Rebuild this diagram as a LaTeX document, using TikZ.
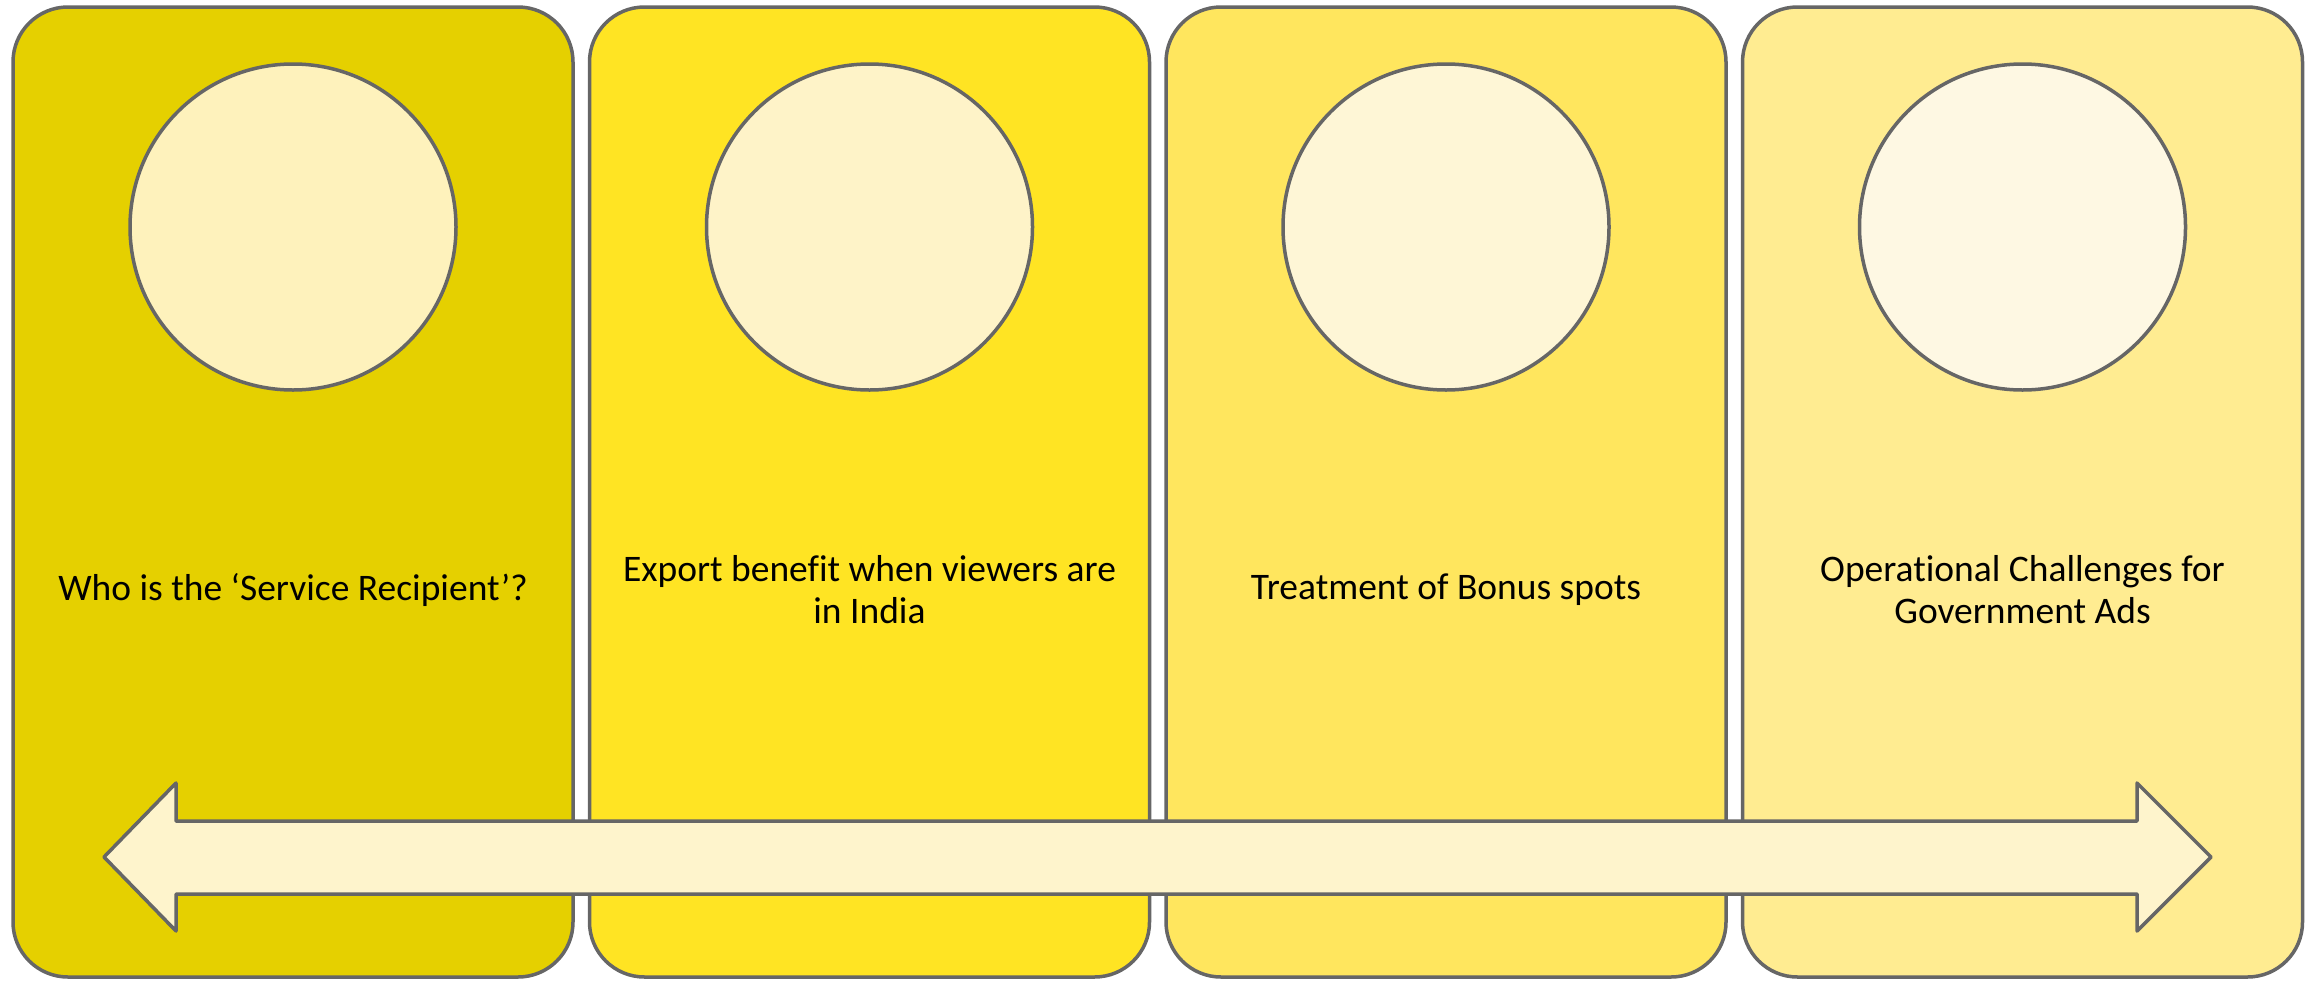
\documentclass[tikz,border=0pt]{standalone}
\usepackage{fontspec}
\setmainfont[Ligatures=NoCommon]{Carlito}
\definecolor{edge}{HTML}{666666}
\definecolor{boxA}{HTML}{E5D000}
\definecolor{boxB}{HTML}{FFE423}
\definecolor{boxC}{HTML}{FFE65E}
\definecolor{boxD}{HTML}{FFEC91}
\definecolor{circA}{HTML}{FEF2BC}
\definecolor{circB}{HTML}{FEF3C8}
\definecolor{circC}{HTML}{FEF6D6}
\definecolor{circD}{HTML}{FEF8E3}
\definecolor{arrowfill}{HTML}{FEF4CC}
\tikzset{
  panel/.style={draw=edge, line width=3.5pt, rounded corners=55pt, minimum width=560pt, minimum height=970pt, inner sep=0pt},
  disc/.style={draw=edge, line width=3.5pt, circle, minimum size=326pt, inner sep=0pt},
  label/.style={align=center, font=\fontsize{37.5}{42}\selectfont, inner sep=0pt},
}
\begin{document}
\begin{tikzpicture}[x=1pt,y=-1pt]
\useasboundingbox (0,0) rectangle (2317,980);
\node[panel, fill=boxA] (p1) at (293,492) {};
\node[panel, fill=boxB] (p2) at (869.5,492) {};
\node[panel, fill=boxC] (p3) at (1446,492) {};
\node[panel, fill=boxD] (p4) at (2022.5,492) {};
\node[disc, fill=circA] (c1) at (293,227) {};
\node[disc, fill=circB] (c2) at (869.5,227) {};
\node[disc, fill=circC] (c3) at (1446,227) {};
\node[disc, fill=circD] (c4) at (2022.5,227) {};
\node[label] (t1) at (293,590) {Who is the ‘Service Recipient’?};
\node[label] (t2) at (869.5,590) {Export benefit when viewers are\\in India};
\node[label] (t3) at (1446,590) {Treatment of Bonus spots};
\node[label] (t4) at (2022.5,590) {Operational Challenges for\\Government Ads};
\draw[draw=edge, fill=arrowfill, line width=3.5pt, line join=round]
  (104,857) -- (176,783) -- (176,821) -- (2137,821) -- (2137,783) -- (2211,857)
  -- (2137,931) -- (2137,894) -- (176,894) -- (176,931) -- cycle;
\end{tikzpicture}
\end{document}
